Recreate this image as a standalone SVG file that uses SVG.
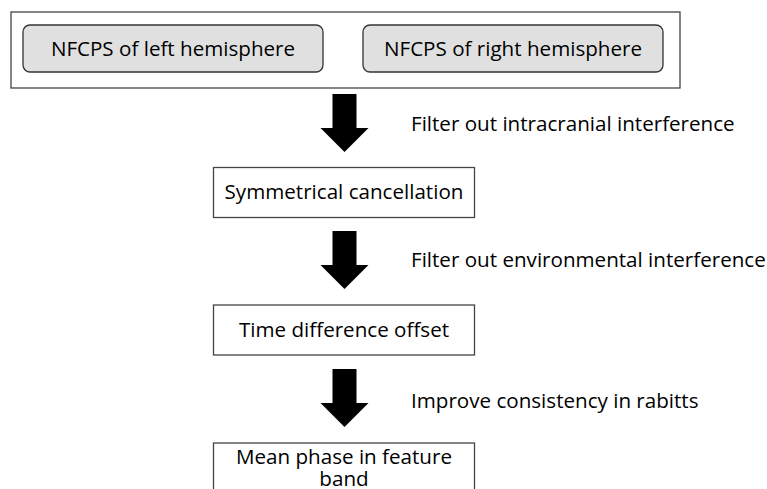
<svg xmlns="http://www.w3.org/2000/svg" width="767" height="489" viewBox="0 0 767 489">
<style>
text{font-family:"Open Sans","Noto Sans","DejaVu Sans",sans-serif;font-size:20.6px;fill:#000}
.c{text-anchor:middle}
.box{fill:#fff;stroke:#444;stroke-width:1.3}
.rbox{fill:#e0e0e0;stroke:#333;stroke-width:1.3}
.arr{fill:#000}
</style>
<rect width="767" height="489" fill="#fff"/>
<g id="input">
<rect class="box" x="11" y="12" width="669" height="76"/>
<g id="left"><rect class="rbox" x="23" y="25" width="300" height="47" rx="7"/><text class="c" x="173" y="56">NFCPS of left hemisphere</text></g>
<g id="right"><rect class="rbox" x="363" y="25" width="300" height="47" rx="7"/><text class="c" x="513" y="56">NFCPS of right hemisphere</text></g>
</g>
<g id="connectors">
<polygon class="arr" points="332.5,94 356.5,94 356.5,128 368.5,128 344.5,152 320.5,128 332.5,128"/>
<polygon class="arr" points="332.5,231 356.5,231 356.5,265 368.5,265 344.5,289 320.5,265 332.5,265"/>
<polygon class="arr" points="332.5,369 356.5,369 356.5,403 368.5,403 344.5,427 320.5,403 332.5,403"/>
</g>
<g id="labels">
<text x="411" y="131">Filter out intracranial interference</text>
<text x="411" y="267">Filter out environmental interference</text>
<text x="411" y="408">Improve consistency in rabitts</text>
</g>
<g id="sym"><rect class="box" x="213.5" y="167.5" width="261" height="50"/><text class="c" x="344" y="199">Symmetrical cancellation</text></g>
<g id="tdo"><rect class="box" x="213.5" y="305" width="261" height="50"/><text class="c" x="344" y="337">Time difference offset</text></g>
<g id="mean"><rect class="box" x="213.5" y="443" width="261" height="60"/><text class="c" x="344" y="464">Mean phase in feature</text><text class="c" x="344" y="486">band</text></g>
</svg>
